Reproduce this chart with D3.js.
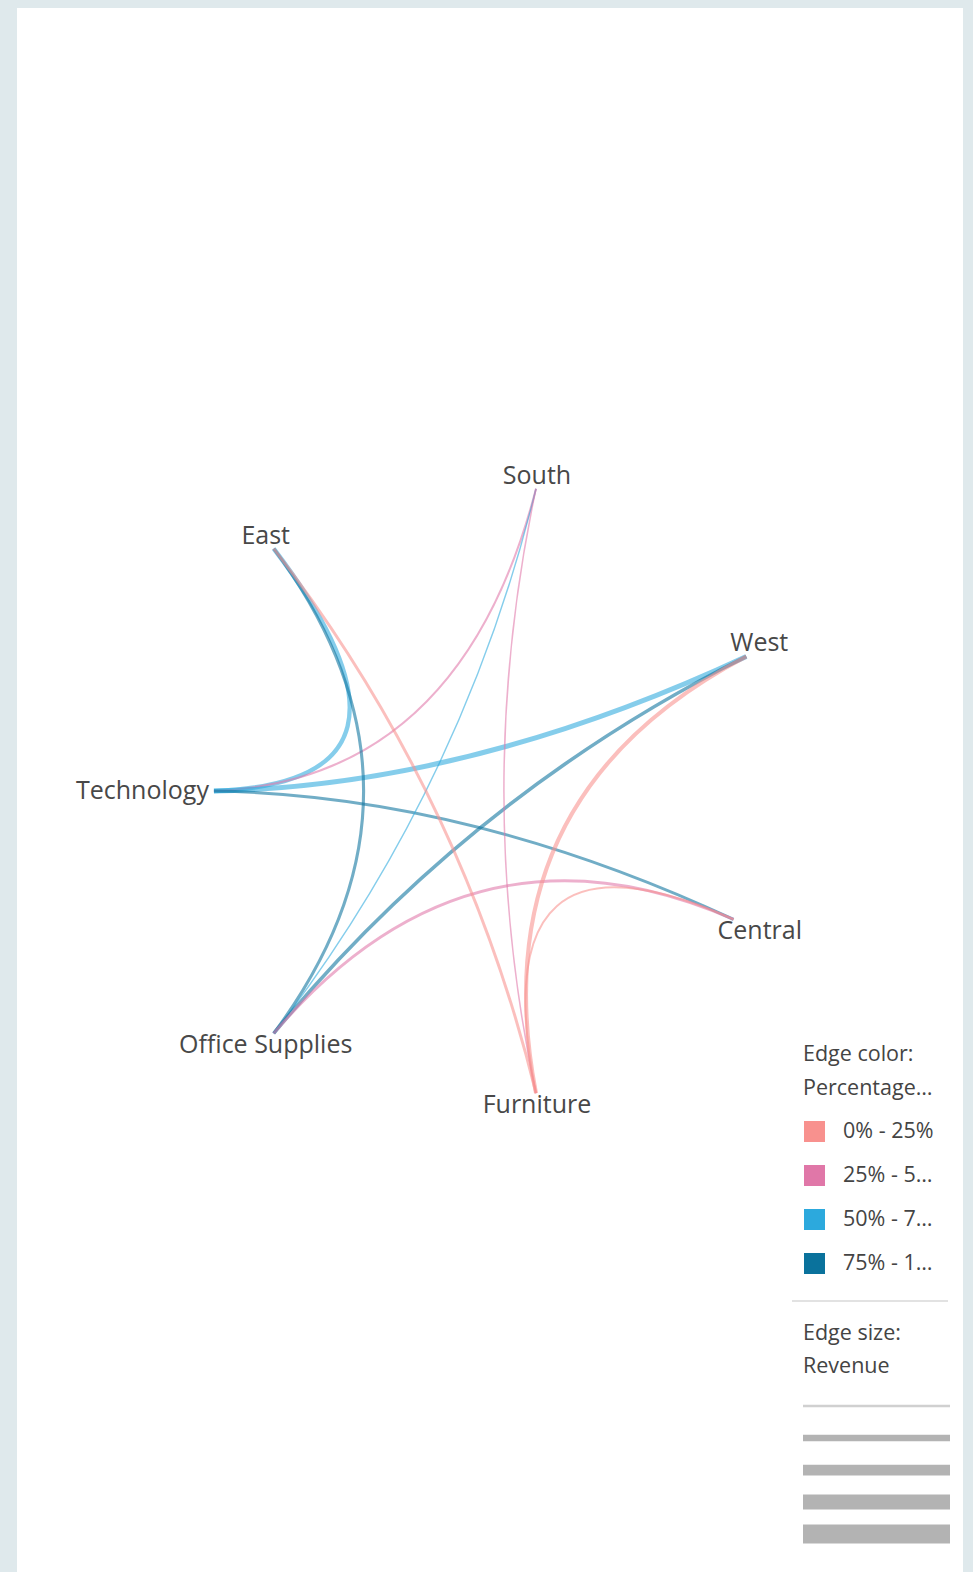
<!DOCTYPE html>
<html><head><meta charset="utf-8">
<script src="https://cdn.jsdelivr.net/npm/d3@7"></script>
<style>
html,body{margin:0;padding:0;background:#dfe9ec;}
svg{display:block;font-family:"Open Sans",sans-serif;}
</style></head><body>
<svg id="chart" width="973" height="1572"></svg>
<script>
// ---- data ----
const nodeOrder = ["South", "West", "Central", "Furniture", "Office Supplies", "Technology", "East"];
const categories = ["Technology", "Office Supplies", "Furniture"];
const regions = ["East", "South", "West", "Central"];
// percentage per category, in region order (East, South, West, Central)
const technologyPct = [68, 42, 72, 84];
const officeSuppliesPct = [88, 58, 90, 36];
const furniturePct = [14, 32, 18, 10];
// revenue (thousands), region order (East, South, West, Central)
const technologyRevenue = [245, 115, 280, 165];
const officeSuppliesRevenue = [170, 80, 200, 160];
const furnitureRevenue = [165, 85, 225, 110];
const colorLegendLabels = ["0% - 25%", "25% - 5…", "50% - 7…", "75% - 1…"];
const colorThresholds = [25, 50, 75];
const sizeLegendSteps = [0, 1, 2, 3, 4];

// ---- build edges ----
const pctBy = {"Technology": technologyPct, "Office Supplies": officeSuppliesPct, "Furniture": furniturePct};
const revBy = {"Technology": technologyRevenue, "Office Supplies": officeSuppliesRevenue, "Furniture": furnitureRevenue};
const edges = [];
categories.forEach(c => regions.forEach((r, i) => edges.push({source: c, target: r, pct: pctBy[c][i], revenue: revBy[c][i]})));

// ---- layout ----
const svg = d3.select("#chart");
const W = 973, H = 1572;
svg.append("rect").attr("x", 17).attr("y", 8).attr("width", 946).attr("height", H).attr("fill", "#fff");

const cx = 467, cy = 791, R = 310, xMin = 76, xMax = 802, beta = 0.93;
const angle = d3.scaleLinear().domain([0, nodeOrder.length]).range([-3 * Math.PI / 7, -3 * Math.PI / 7 + 2 * Math.PI]);
const color = d3.scaleThreshold().domain(colorThresholds).range(["#F8918E", "#E077A8", "#2CA9DD", "#0A729C"]);
const width = d3.scaleLinear().domain([0, d3.max(edges, d => d.revenue)]).range([0, 5]);

const edgeG = svg.append("g");
const labelG = svg.append("g");

const nodes = nodeOrder.map((name, i) => ({name, a: angle(i)}));
nodes.forEach(n => {
  const t = labelG.append("text").text(n.name)
    .attr("font-size", 25).attr("fill", "#484848");
  const w = t.node().getComputedTextLength();
  const c = Math.cos(n.a), s = Math.sin(n.a);
  let anchor, dx;
  if (c > 0.8) { anchor = "start"; dx = -16; }
  else if (c < -0.9) { anchor = "end"; dx = -5; }
  else { anchor = "middle"; dx = c < 0 ? -8 : 1; }
  const dy = s > 0.3 ? 20 : (s < -0.3 ? -5 : 8);
  const left = anchor === "start" ? dx : anchor === "end" ? dx - w : dx - w / 2;
  const right = left + w;
  let r = R;
  const x0 = cx + R * c;
  if (c < 0 && x0 + left < xMin) r = (cx - (xMin - left)) / -c;
  if (c > 0 && x0 + right > xMax) r = ((xMax - right) - cx) / c;
  n.x = cx + r * c; n.y = cy + r * s;
  t.attr("text-anchor", anchor).attr("x", n.x + dx).attr("y", n.y + dy);
});
const pos = Object.fromEntries(nodes.map(n => [n.name, n]));

edgeG.selectAll("path").data(edges).join("path")
  .attr("d", d => {
    const a = pos[d.source], b = pos[d.target];
    const mx = (a.x + b.x) / 2, my = (a.y + b.y) / 2;
    const p = d3.path();
    p.moveTo(a.x, a.y);
    p.quadraticCurveTo(beta * cx + (1 - beta) * mx, beta * cy + (1 - beta) * my, b.x, b.y);
    return p.toString();
  })
  .attr("fill", "none")
  .attr("stroke", d => color(d.pct))
  .attr("stroke-opacity", 0.58)
  .attr("stroke-width", d => width(d.revenue));

// ---- legend ----
const lg = svg.append("g").attr("font-size", 21.5).attr("fill", "#444");
lg.append("text").attr("x", 803).attr("y", 1061).text("Edge color:");
lg.append("text").attr("x", 803).attr("y", 1095).text("Percentage…");
const sw = lg.selectAll("g.sw").data(colorLegendLabels).join("g").attr("class", "sw")
  .attr("transform", (d, i) => `translate(804,${1121 + i * 44})`);
sw.append("rect").attr("width", 21).attr("height", 21).attr("fill", (d, i) => color.range()[i]);
sw.append("text").attr("x", 39).attr("y", 17).text(d => d);

svg.append("line").attr("x1", 792).attr("x2", 948).attr("y1", 1301).attr("y2", 1301)
  .attr("stroke", "#e2e2e2").attr("stroke-width", 2);
lg.append("text").attr("x", 803).attr("y", 1340).text("Edge size:");
lg.append("text").attr("x", 803).attr("y", 1373).text("Revenue");
const sizeW = d3.scaleLinear().domain([0, 4]).range([2.5, 19]);
svg.selectAll("line.sz").data(sizeLegendSteps).join("line").attr("class", "sz")
  .attr("x1", 803).attr("x2", 950)
  .attr("y1", (d, i) => 1406 + i * 32).attr("y2", (d, i) => 1406 + i * 32)
  .attr("stroke", (d, i) => i === 0 ? "#d0d0d0" : "#b3b3b3")
  .attr("stroke-width", d => sizeW(d));
</script>
</body></html>
